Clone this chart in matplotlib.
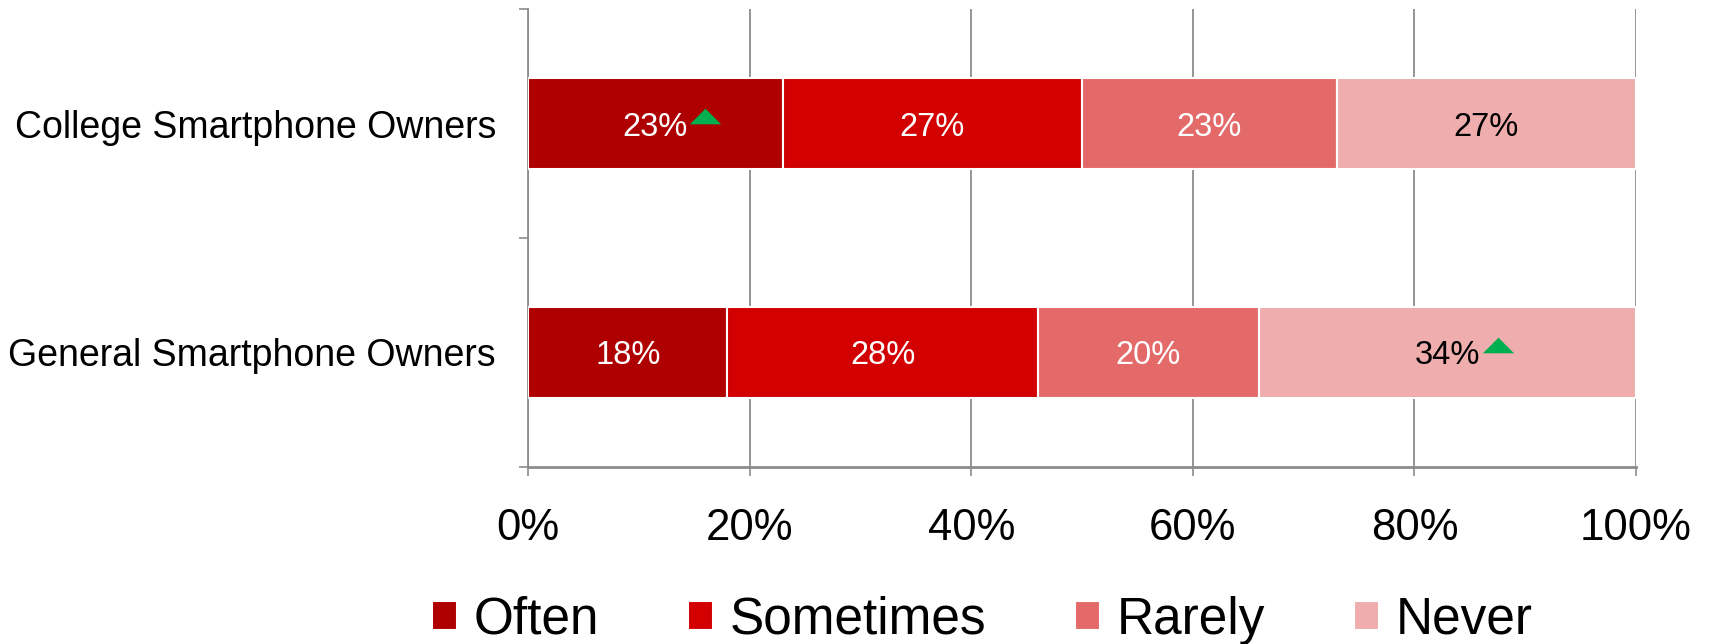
import matplotlib
matplotlib.use("Agg")
import matplotlib.pyplot as plt
import matplotlib.transforms as mtransforms
from matplotlib.path import Path
import numpy as np

# survey groups and answer shares (%)
groups = ['College Smartphone Owners', 'General Smartphone Owners']
answers = ['Often', 'Sometimes', 'Rarely', 'Never']
often = [23, 18]
sometimes = [27, 28]
rarely = [23, 20]
never = [27, 34]
# which segments get the green "up" arrow: (group index, answer index)
up_marks = [(0, 0), (1, 3)]

colors = ['#AE0000', '#D20000', '#E46A6A', '#EFADAD']
text_colors = ['white', 'white', 'white', 'black']
grey = '#8C8C8C'

plt.rcParams['font.family'] = ['Liberation Sans', 'DejaVu Sans']

# flat up-triangle marker (wider than tall)
flat_tri = Path([(-1, -0.5), (1, -0.5), (0, 0.5), (-1, -0.5)],
                [Path.MOVETO, Path.LINETO, Path.LINETO, Path.CLOSEPOLY])

fig = plt.figure(figsize=(17.15, 6.44), dpi=100)
ax = fig.add_axes([528 / 1715, 1 - 467 / 644, 1108 / 1715, 458 / 644])

series = [often, sometimes, rarely, never]
y = np.arange(len(groups))
left = np.zeros(len(groups))
for k, vals in enumerate(series):
    vals = np.array(vals, dtype=float)
    ax.barh(y, vals, left=left, height=0.4, color=colors[k],
            edgecolor='white', linewidth=1.5, label=answers[k], zorder=3)
    for i in range(len(groups)):
        cx = left[i] + vals[i] / 2
        ax.text(cx, y[i], '%d%%' % vals[i], ha='center', va='center_baseline',
                color=text_colors[k], fontsize=23.5, zorder=4)
        if (i, k) in up_marks:
            tr = mtransforms.offset_copy(ax.transData, fig=fig, x=50, y=8, units='dots')
            ax.plot(cx, y[i], marker=flat_tri, markersize=22.5, color='#00B050',
                    markeredgewidth=0, transform=tr, zorder=5, clip_on=False)
    left += vals

ax.set_xlim(0, 100)
ax.set_ylim(1.5, -0.5)
ax.set_xticks(np.arange(0, 101, 20))
ax.set_xticklabels(['%d%%' % v for v in range(0, 101, 20)], fontsize=31.5)
ax.set_yticks(y)
ax.set_yticklabels(groups, fontsize=27)
ax.set_yticks([-0.5, 0.5, 1.5], minor=True)

ax.tick_params(axis='y', which='major', length=0, pad=23)
ax.tick_params(axis='y', which='minor', length=6.5, width=1.2, color=grey, direction='out')
ax.tick_params(axis='x', length=6.5, width=1.2, color=grey, direction='out', pad=23)

ax.grid(axis='x', color=grey, linewidth=1.3, zorder=0)
ax.set_axisbelow(True)
for s in ['top', 'right']:
    ax.spines[s].set_visible(False)
ax.spines['left'].set_color(grey)
ax.spines['left'].set_linewidth(1.3)
ax.spines['bottom'].set_color(grey)
ax.spines['bottom'].set_linewidth(2)

fig.legend(loc='center', bbox_to_anchor=(0.573, 0.037), ncol=4, frameon=False,
           fontsize=37, handlelength=0.48, handleheight=0.48, handletextpad=0.33,
           columnspacing=1.73, borderpad=0, borderaxespad=0)

fig.savefig('out.png', dpi=100)
